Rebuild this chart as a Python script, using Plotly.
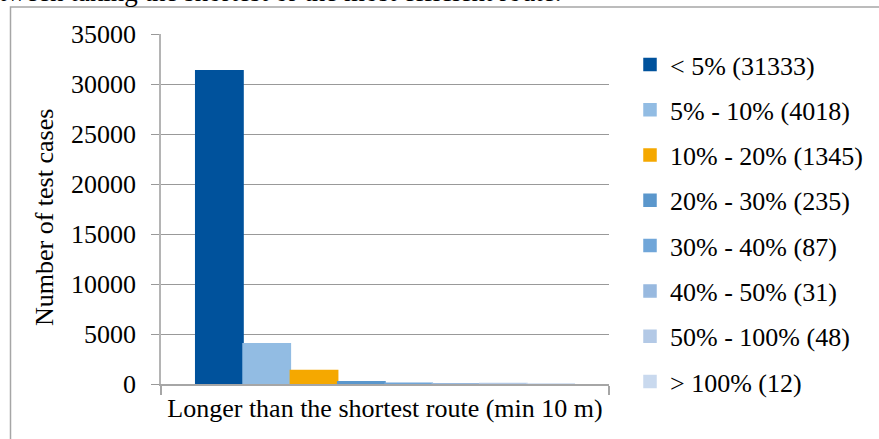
import plotly.graph_objects as go

category = ["Longer than the shortest route (min 10 m)"]
series_names = ["< 5% (31333)", "5% - 10% (4018)", "10% - 20% (1345)", "20% - 30% (235)",
                "30% - 40% (87)", "40% - 50% (31)", "50% - 100% (48)", "> 100% (12)"]
series_values = [31333, 4018, 1345, 235, 87, 31, 48, 12]
series_colors = ["#00529C", "#92BCE3", "#F5A800", "#5B97CC",
                 "#70A6D9", "#98B9DF", "#B3C9E6", "#C9D9EE"]
y_ticks = [0, 5000, 10000, 15000, 20000, 25000, 30000, 35000]

W, H = 879, 439
L, R, T, B = 161, 270, 34, 55
pw, ph = W - L - R, H - T - B

def px_x(p):
    return (p - L) / pw

def px_y(p):
    return (H - B - p) / ph

FONT = "Liberation Serif"

fig = go.Figure()
for i, (n, v, c) in enumerate(zip(series_names, series_values, series_colors)):
    fig.add_trace(go.Bar(x=category, y=[v], name=n, marker=dict(color=c, line=dict(width=1.5, color=c)),
                         legendgroup=f"g{i}"))

fig.update_layout(
    width=W, height=H,
    margin=dict(l=L, r=R, t=T, b=B, autoexpand=False),
    paper_bgcolor="white", plot_bgcolor="white",
    barmode="group", bargap=0.155, bargroupgap=0,
    font=dict(family=FONT, size=26, color="black"),
    showlegend=True,
    legend=dict(x=px_x(630), xanchor="left", y=px_y(41), yanchor="top",
                font=dict(family=FONT, size=26, color="black"),
                tracegroupgap=8.5, bgcolor="rgba(0,0,0,0)", itemwidth=30,
                maxheight=438),
    xaxis=dict(showline=True, linecolor="#A6A6A6", linewidth=1.5,
               ticks="outside", tickson="boundaries", ticklen=9, tickcolor="#A6A6A6",
               tickwidth=1.5, showgrid=False, tickangle=0, automargin=False,
               tickfont=dict(family=FONT, size=26)),
    yaxis=dict(range=[0, 35000], tickvals=y_ticks, ticktext=[str(t) for t in y_ticks],
               showline=True, linecolor="#B4B4B4", linewidth=1.5,
               ticks="outside", ticklen=8, tickcolor="#999999",
               showgrid=True, gridcolor="#999999", gridwidth=1.2,
               zeroline=False, automargin=False, tickfont=dict(family=FONT, size=26),
               ticklabelstandoff=10),
    shapes=[dict(type="rect", xref="paper", yref="paper",
                 x0=px_x(10.5), x1=px_x(W + 20), y0=px_y(H + 20), y1=px_y(7),
                 line=dict(color="#A6A6A6", width=1.5), fillcolor="rgba(0,0,0,0)", layer="below")],
    annotations=[
        dict(text="tween taking the shortest or the most efficient route.",
             xref="paper", yref="paper", x=px_x(-3), xanchor="left",
             y=px_y(9), yanchor="bottom", showarrow=False,
             font=dict(family=FONT, size=27, color="black")),
        dict(text="Number of test cases", textangle=-90,
             xref="paper", yref="paper", x=px_x(44), xanchor="center",
             y=px_y(218), yanchor="middle", showarrow=False,
             font=dict(family=FONT, size=26, color="black")),
    ],
)

fig.write_html("out.html")
